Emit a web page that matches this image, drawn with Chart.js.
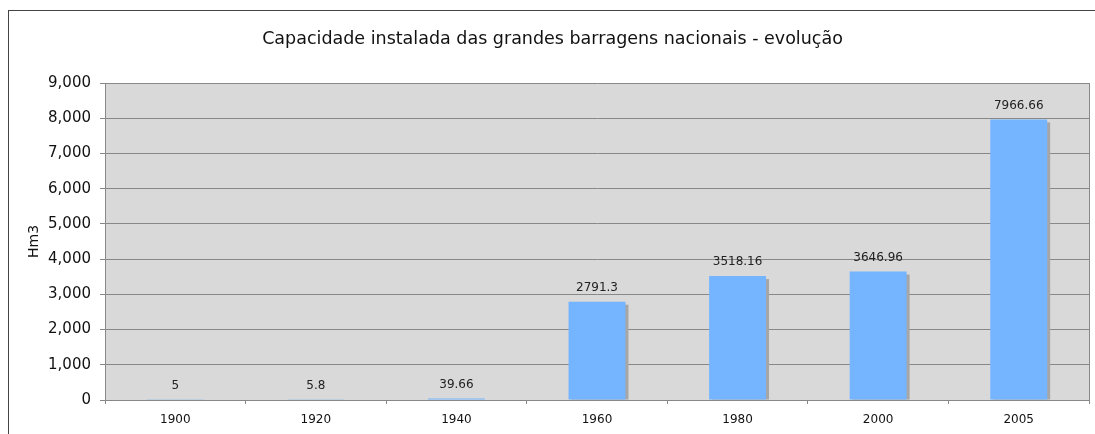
<!DOCTYPE html>
<html>
<head>
<meta charset="utf-8">
<script src="https://cdn.jsdelivr.net/npm/chart.js@4"></script>
<style>
  body { margin: 0; background: #fff; }
  #moldura { position: absolute; left: 8px; top: 10px; width: 1100px; height: 440px; border: 1px solid #444; box-sizing: border-box; }
  #wrap { position: absolute; left: 0; top: 0; width: 1095px; height: 434px; }
</style>
</head>
<body>
<div id="moldura"></div>
<div id="wrap"><canvas id="grafico"></canvas></div>
<script>
const anos = ['1900', '1920', '1940', '1960', '1980', '2000', '2005'];
const capacidade = [5, 5.8, 39.66, 2791.3, 3518.16, 3646.96, 7966.66];
const rotulos = ['5', '5.8', '39.66', '2791.3', '3518.16', '3646.96', '7966.66'];

const fonte = 'Verdana, "DejaVu Sans", sans-serif';

// fundo cinza da área do gráfico + sombra das barras + rótulos
const pluginExcel = {
  id: 'excel',
  beforeDraw(chart) {
    const { ctx, chartArea: a } = chart;
    ctx.save();
    ctx.fillStyle = '#d9d9d9';
    ctx.fillRect(a.left, a.top, a.right - a.left, a.bottom - a.top);
    ctx.restore();
  },
  beforeDatasetsDraw(chart) {
    const { ctx } = chart;
    const meta = chart.getDatasetMeta(0);
    ctx.save();
    ctx.fillStyle = '#a6a6a6';
    meta.data.forEach(bar => {
      const w = bar.width;
      const h = bar.base - bar.y;
      if (h > 3) ctx.fillRect(bar.x - w / 2 + 3, bar.y + 3, w, h - 3);
    });
    ctx.restore();
  },
  afterDatasetsDraw(chart) {
    const { ctx, chartArea: a } = chart;
    const meta = chart.getDatasetMeta(0);
    ctx.save();
    ctx.strokeStyle = '#888';
    ctx.lineWidth = 1;
    ctx.beginPath();
    ctx.moveTo(a.right + 0.5, a.top);
    ctx.lineTo(a.right + 0.5, a.bottom);
    ctx.stroke();
    ctx.fillStyle = '#222';
    ctx.font = '12px ' + fonte;
    ctx.textAlign = 'center';
    ctx.textBaseline = 'bottom';
    meta.data.forEach((bar, i) => {
      ctx.fillText(rotulos[i], bar.x, bar.y - 8);
    });
    ctx.restore();
  }
};

const ctx = document.getElementById('grafico');
const grafico = new Chart(ctx, {
  type: 'bar',
  data: {
    labels: anos,
    datasets: [{
      label: 'Capacidade',
      data: capacidade,
      backgroundColor: '#75b5ff',
      borderWidth: 0,
      barPercentage: 0.405,
      categoryPercentage: 1
    }]
  },
  options: {
    responsive: true,
    maintainAspectRatio: false,
    animation: false,
    layout: { padding: { left: 16, right: 6, top: 0, bottom: 0 } },
    plugins: {
      legend: { display: false },
      tooltip: { enabled: false },
      title: {
        display: true,
        text: 'Capacidade instalada das grandes barragens nacionais - evolução',
        color: '#111',
        font: { family: fonte, size: 17.5, weight: 'normal' },
        padding: { top: 29, bottom: 33 }
      }
    },
    scales: {
      y: {
        min: 0,
        max: 9000,
        ticks: {
          stepSize: 1000,
          color: '#111',
          font: { family: fonte, size: 15 },
          padding: 9,
          callback: v => v.toLocaleString('en-US')
        },
        grid: { color: '#888', tickLength: 5, drawTicks: true },
        border: { color: '#888' },
        title: {
          display: true,
          text: 'Hm3',
          color: '#111',
          font: { family: fonte, size: 14 },
          padding: { top: 10, bottom: 0 }
        },
        afterFit(scale) { scale.width = 89; }
      },
      x: {
        ticks: {
          color: '#111',
          font: { family: fonte, size: 12 },
          padding: 9
        },
        grid: { offset: true, drawOnChartArea: false, drawTicks: true, tickLength: 4, color: '#888' },
        border: { color: '#888' },
        afterFit(scale) { scale.height = 34; }
      }
    }
  },
  plugins: [pluginExcel]
});
</script>
</body>
</html>
